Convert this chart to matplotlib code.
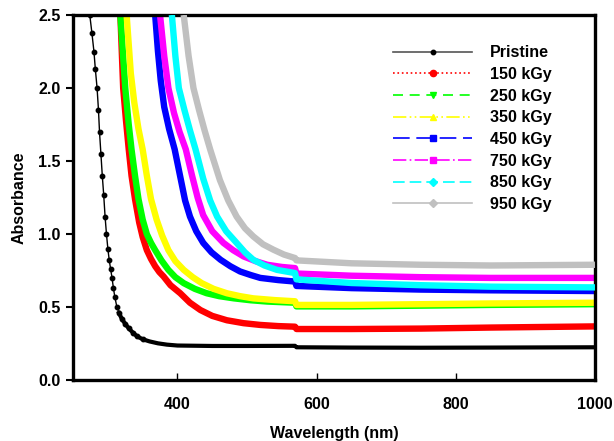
import matplotlib
matplotlib.use("Agg")
import matplotlib.pyplot as plt
from matplotlib.lines import Line2D

plt.rcParams['font.family'] = ['Liberation Sans', 'DejaVu Sans']
plt.rcParams['font.weight'] = 'bold'

# values (wavelength nm, absorbance)
wl_pristine = [274, 277, 280, 282, 284.5, 286.5, 288, 290, 292, 294, 296, 298, 300, 302, 304,
               306, 308, 310, 313, 316, 320, 325, 330, 336, 342, 350, 360, 372, 385,
               400, 450, 500, 569, 571, 650, 750, 850, 1000]
ab_pristine = [2.5, 2.38, 2.25, 2.13, 2.0, 1.85, 1.7, 1.55, 1.4, 1.27, 1.12, 1.0, 0.9, 0.82,
               0.76, 0.7, 0.63, 0.57, 0.5, 0.46, 0.42, 0.385, 0.355, 0.325, 0.3, 0.28, 0.265,
               0.252, 0.243, 0.237, 0.234, 0.234, 0.235, 0.225, 0.223, 0.222, 0.223, 0.225]

wl_150 = [318, 322, 326, 330, 334, 339, 345, 350, 356, 362, 368, 374, 380, 390, 404, 418, 433,
          450, 471, 495, 519, 545, 569, 571, 650, 750, 850, 1000]
ab_150 = [2.5, 2.0, 1.78, 1.58, 1.4, 1.24, 1.08, 0.98, 0.89, 0.83, 0.78, 0.74, 0.71, 0.65,
          0.595, 0.53, 0.48, 0.44, 0.41, 0.39, 0.378, 0.37, 0.366, 0.35, 0.35, 0.353, 0.36, 0.368]

wl_250 = [318, 325, 330, 334, 339, 344, 350, 356, 362, 368, 377, 387, 397, 409, 425, 442, 460,
          481, 505, 529, 569, 571, 650, 750, 850, 1000]
ab_250 = [2.5, 2.0, 1.75, 1.58, 1.4, 1.24, 1.1, 1.0, 0.94, 0.89, 0.82, 0.755, 0.705, 0.664,
          0.625, 0.595, 0.575, 0.56, 0.547, 0.538, 0.53, 0.505, 0.505, 0.51, 0.515, 0.52]

wl_350 = [327, 333, 338, 344, 350, 356, 362, 370, 378, 387, 397, 409, 422, 435, 452, 471, 490,
          509, 540, 569, 571, 650, 750, 850, 1000]
ab_350 = [2.5, 2.1, 1.9, 1.72, 1.58, 1.4, 1.24, 1.1, 0.99, 0.89, 0.815, 0.755, 0.705, 0.664,
          0.625, 0.595, 0.575, 0.56, 0.548, 0.54, 0.515, 0.515, 0.52, 0.525, 0.53]

wl_450 = [368, 372, 376, 381, 388, 396, 405, 411, 418, 427, 437, 449, 462, 476, 490, 505, 519,
          545, 569, 571, 650, 750, 850, 1000]
ab_450 = [2.5, 2.25, 2.05, 1.87, 1.72, 1.58, 1.37, 1.23, 1.12, 1.02, 0.94, 0.875, 0.824, 0.78,
          0.744, 0.72, 0.70, 0.685, 0.675, 0.645, 0.63, 0.62, 0.615, 0.61]

wl_750 = [375, 381, 387, 395, 403, 412, 421, 429, 437, 450, 466, 480, 495, 512, 529, 550, 569,
          571, 650, 750, 850, 1000]
ab_750 = [2.5, 2.22, 2.0, 1.83, 1.7, 1.58, 1.4, 1.25, 1.13, 1.02, 0.94, 0.89, 0.847, 0.815,
          0.79, 0.775, 0.767, 0.73, 0.715, 0.705, 0.70, 0.70]

wl_850 = [392, 397, 402, 410, 418, 426, 437, 447, 457, 470, 485, 497, 509, 525, 543, 569, 571,
          650, 750, 850, 1000]
ab_850 = [2.5, 2.22, 2.0, 1.85, 1.71, 1.58, 1.38, 1.23, 1.12, 1.02, 0.94, 0.875, 0.824, 0.785,
          0.755, 0.733, 0.69, 0.665, 0.65, 0.64, 0.635]

wl_950 = [409, 416, 423, 431, 439, 447, 461, 473, 485, 497, 509, 523, 538, 553, 569, 571, 650,
          750, 850, 1000]
ab_950 = [2.5, 2.22, 2.0, 1.85, 1.71, 1.58, 1.37, 1.23, 1.12, 1.04, 0.984, 0.93, 0.893, 0.86,
          0.836, 0.82, 0.80, 0.79, 0.785, 0.79]

labels = ['Pristine', '150 kGy', '250 kGy', '350 kGy', '450 kGy', '750 kGy', '850 kGy', '950 kGy']
colors = ['black', '#ff0000', '#00ff00', '#ffff00', '#0000ff', '#ff00ff', '#00ffff', '#c0c0c0']
markers = ['o', 'o', 'v', '^', 's', 's', 'D', 'D']
styles = ['-', ':', (0, (6, 4)), (0, (8, 2, 1, 2, 1, 2)), (0, (10, 4)), (0, (8, 2, 1, 2)),
          (0, (7, 3)), '-']
series = [(wl_pristine, ab_pristine), (wl_150, ab_150), (wl_250, ab_250), (wl_350, ab_350),
          (wl_450, ab_450), (wl_750, ab_750), (wl_850, ab_850), (wl_950, ab_950)]

fig = plt.figure(figsize=(6.14, 4.41), dpi=100)
ax = fig.add_axes([0.119, 0.138, 0.850, 0.828])

for i, (x, y) in enumerate(series):
    if i == 0:
        # steep part shows single dots, the flat tail is a dense black band
        ax.plot(x, y, color='black', lw=1.0, marker='o', ms=3.2, markevery=slice(0, 26), zorder=10)
        ax.plot(x[19:], y[19:], color='black', lw=3.0, solid_joinstyle='round', zorder=10)
    else:
        ax.plot(x, y, color=colors[i], lw=4.6, solid_joinstyle='round',
                solid_capstyle='butt', zorder=2 + i * 0.1)

ax.set_xlim(250, 1000)
ax.set_ylim(0, 2.5)
ax.set_xticks([400, 600, 800, 1000])
ax.set_yticks([0.0, 0.5, 1.0, 1.5, 2.0, 2.5])
ax.set_yticklabels(['0.0', '0.5', '1.0', '1.5', '2.0', '2.5'])
ax.tick_params(axis='x', direction='in', length=5, width=1, labelsize=11.5, pad=12, top=False)
ax.tick_params(axis='y', direction='out', length=5, width=1.5, labelsize=11.5, pad=4, right=False)
for sp in ax.spines.values():
    sp.set_linewidth(2.4)

ax.set_xlabel('Wavelength (nm)', fontsize=11.5, fontweight='bold', labelpad=10)
ax.set_ylabel('Absorbance', fontsize=11.5, fontweight='bold', labelpad=8)

handles = []
for i in range(8):
    lc = '#555555' if i == 0 else colors[i]
    handles.append(Line2D([], [], color=lc, lw=1.2, ls=styles[i], marker=markers[i],
                          ms=4.5 if i else 3.2, mfc=colors[i], mec=colors[i]))
leg = ax.legend(handles, labels, loc='upper left', bbox_to_anchor=(0.6, 0.935), frameon=False,
                handlelength=5.0, handletextpad=1.1, labelspacing=0.42, fontsize=11.5,
                borderaxespad=0, markerfirst=True)

fig.savefig('out.png', dpi=100)
